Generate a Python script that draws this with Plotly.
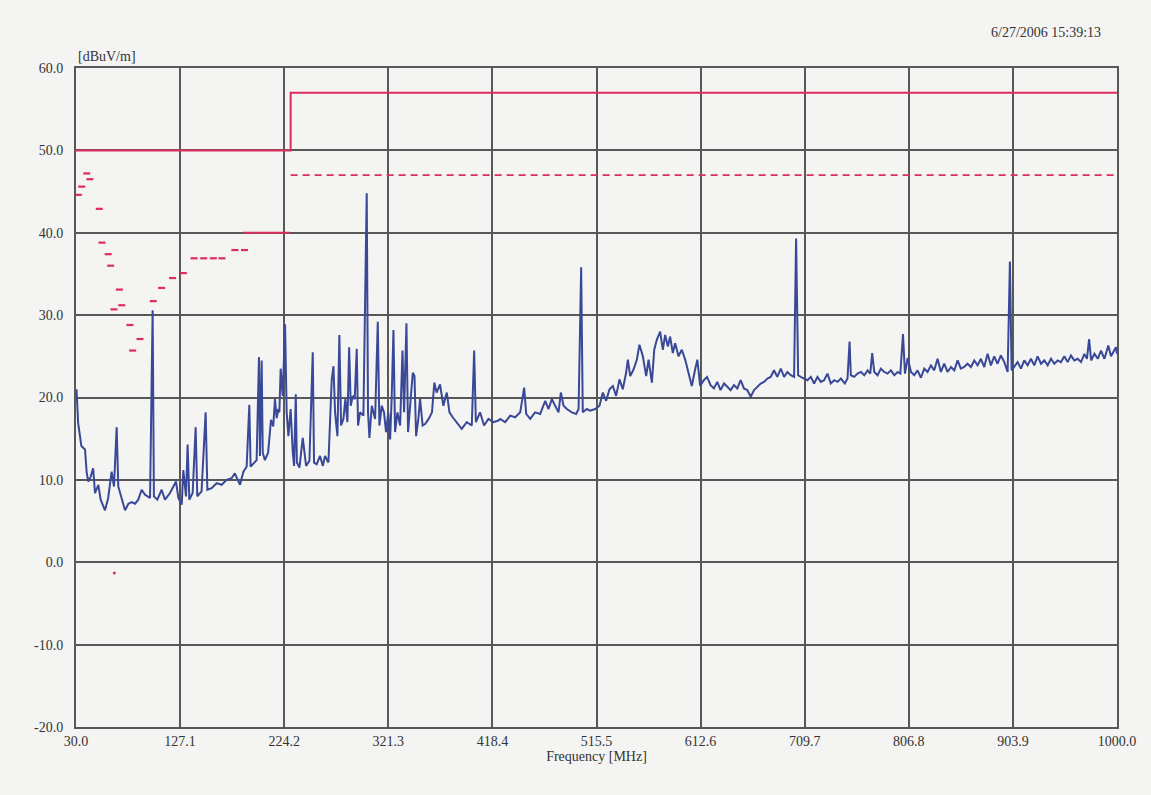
import numpy as np
import plotly.graph_objects as go

# ---------------- data ----------------
x_tick_labels = ["30.0", "127.1", "224.2", "321.3", "418.4", "515.5",
                 "612.6", "709.7", "806.8", "903.9", "1000.0"]
y_tick_values = [-20, -10, 0, 10, 20, 30, 40, 50, 60]
y_tick_labels = ["-20.0", "-10.0", "0.0", "10.0", "20.0", "30.0", "40.0", "50.0", "60.0"]

# measured spectrum (MHz, dBuV/m)
freq = [30.5, 32, 35, 38.4, 40, 41.5, 43.7, 46, 47.7, 50.8, 53, 57, 60, 63.2, 65.4, 67.9, 69.4,
        72.5, 75.7, 78.8, 81.9, 85, 88, 91.2, 94.3, 99, 101.4, 102.6, 105.8, 109.8, 112.9, 117.6,
        120.7, 123.2, 125.4, 128.5, 130, 132.5, 134, 135.6, 138.7, 141.5, 143, 147, 150.8, 152.4,
        156.4, 161, 165.7, 170.4, 175, 178, 182.8, 186, 189, 191.5, 192.7, 195.2, 198.3, 200.5,
        201.4, 203, 204, 206, 209, 211.7, 213.8, 215.4, 217, 218.5, 219.5, 220.7, 222.6, 224.8,
        226.3, 227.9, 230, 232, 233.2, 234.8, 235.8, 238.2, 241.3, 244.4, 247.5, 250.6, 251.8,
        254.3, 257.4, 260, 262, 265.2, 268.3, 269.9, 271.4, 273.6, 275.4, 277, 279.2, 281, 282.9,
        284.5, 286, 287.9, 289.7, 291.6, 292.8, 294.7, 297.8, 300.9, 302.1, 303.4, 305.6, 308.7,
        311.2, 312.7, 314.9, 317, 318.9, 321, 322.7, 324.2, 325.8, 327.3, 329.5, 332, 334.2,
        335.7, 337.9, 339.4, 341.3, 343.8, 345.4, 346.9, 349, 350.6, 353, 355.5, 358.6, 361.7,
        363.9, 366, 369.2, 372.3, 375.5, 378, 381, 384.8, 389.4, 394.1, 398.8, 401, 402.6, 406.5,
        410.2, 414.3, 419, 423.5, 425.2, 429.9, 434.6, 439.2, 443.9, 447.6, 449.5, 453.2, 457.8,
        462.5, 467.2, 470.3, 473.4, 476.5, 479.6, 481.8, 484.3, 487.4, 492, 496, 498.3, 500.7,
        502.2, 506, 509, 513.8, 517.8, 520.9, 524, 527.1, 530.2, 533.3, 536.4, 539.5, 542.6,
        544.2, 546.4, 549.5, 552.6, 555, 558.2, 561.3, 563.5, 566.6, 568.8, 571.2, 574.3, 576.8,
        579, 581.5, 583.6, 586.1, 588.3, 591.4, 594.5, 597.6, 600.7, 603.8, 606.9, 609, 611.6,
        615, 618, 621.3, 624.4, 627.5, 630.6, 633.8, 636.9, 640, 643.1, 646.2, 649.3, 652.4,
        655.5, 658.7, 661.8, 664.9, 668, 671.1, 674.2, 677.3, 680.4, 683.5, 686.7, 689.8, 692.9,
        696, 699.1, 701, 702.9, 705.3, 708.4, 711.6, 714.7, 717.8, 720.9, 724, 727.1, 730.2,
        733.3, 736.5, 739.6, 742.7, 746.4, 748.9, 750.8, 752, 755.1, 758.2, 761.4, 764.5, 767.6,
        770.1, 771.9, 773.8, 776.9, 780, 783.1, 786.2, 789.3, 792.5, 795.6, 798.1, 800.6, 802.4,
        805, 808, 811.1, 814.1, 817.3, 820.4, 823.5, 826.6, 829.7, 832.8, 835.9, 839, 842.1,
        845.3, 848.4, 851.5, 854.5, 857.6, 860.7, 863.9, 867, 870.1, 873.2, 876.3, 879.4, 882.5,
        885.6, 888.7, 891.8, 895, 898.1, 900.2, 901.8, 904.3, 907.4, 910.5, 913.6, 916.7, 919.8,
        922.9, 926, 929.2, 932.3, 935.4, 938.5, 941.6, 944.7, 947.8, 950.9, 954, 957.1, 960.2,
        963.3, 966.5, 969.6, 972, 974, 975.9, 979, 982.1, 985.1, 988.3, 991.9, 994.4, 997.5,
        999, 1000]
level = [21.0, 16.9, 14.1, 13.7, 10.8, 9.8, 10.4, 11.4, 8.4, 9.4, 7.6, 6.3, 7.8, 11.0, 9.2, 16.4, 9.2,
         7.6, 6.3, 7.1, 7.3, 7.1, 7.6, 8.8, 8.2, 7.8, 30.6, 8.0, 7.6, 8.8, 7.6, 8.4,
         9.2, 9.8, 7.8, 7.0, 11.2, 8.0, 14.3, 7.6, 8.4, 16.4, 8.0, 8.6, 18.2, 8.8,
         9.0, 9.6, 9.4, 10.0, 10.2, 10.8, 9.4, 11.0, 11.6, 19.1, 11.6, 12.0, 12.4, 24.9,
         12.9, 24.5, 13.3, 12.4, 13.3, 17.3, 16.5, 19.8, 17.5, 18.6, 18.2, 23.5, 20.2, 28.9,
         18.2, 15.3, 18.6, 13.3, 11.7, 20.4, 12.1, 11.5, 15.1, 11.7, 12.3, 25.5, 12.1,
         11.9, 12.9, 11.7, 12.9, 12.1, 22.2, 23.8, 18.2, 15.3, 27.6, 16.6, 17.4, 19.8, 17.0,
         26.1, 19.0, 20.2, 19.8, 25.9, 16.6, 18.2, 17.8, 44.8, 18.2, 15.1, 19.0, 17.4,
         29.2, 16.6, 19.0, 18.2, 15.8, 18.2, 14.9, 20.2, 28.2, 15.8, 18.2, 16.6, 25.7,
         18.2, 29.0, 15.8, 18.6, 23.0, 22.6, 15.3, 17.4, 19.8, 16.6, 16.8, 17.4, 18.2,
         21.8, 20.6, 21.6, 19.0, 20.6, 18.2, 17.6, 17.0, 16.2, 17.0, 16.6, 25.7, 17.0, 18.2,
         16.6, 17.4, 17.0, 17.2, 17.4, 17.0, 17.8, 17.6, 18.2, 21.2, 18.0, 17.4, 18.2,
         18.0, 19.6, 18.6, 19.8, 19.0, 18.2, 20.6, 19.0, 18.6, 18.2, 18.0, 18.6, 35.8,
         18.2, 18.6, 18.4, 18.6, 19.0, 20.6, 19.6, 21.0, 21.4, 20.2, 22.2, 21.0, 23.0,
         24.6, 22.6, 23.4, 24.6, 26.4, 25.0, 22.6, 24.6, 21.8, 25.8, 27.0, 28.0, 25.8,
         27.6, 26.2, 27.4, 25.4, 26.6, 25.0, 25.8, 24.6, 23.0, 21.4, 23.4, 24.6, 21.4,
         22.1, 22.5, 21.5, 21.1, 21.9, 20.9, 21.7, 21.3, 20.9, 21.5, 21.1, 22.1, 21.1,
         20.9, 20.1, 20.9, 21.3, 21.7, 21.9, 22.3, 22.5, 23.3, 22.5, 23.5, 22.5, 23.1,
         22.7, 22.5, 39.3, 22.7, 22.5, 22.3, 22.1, 22.5, 21.7, 22.5, 21.9, 22.1, 22.9,
         21.7, 22.1, 21.9, 22.3, 21.7, 22.3, 26.8, 22.7, 22.5, 22.9, 23.1, 22.7, 23.3,
         22.9, 25.4, 23.1, 22.7, 23.5, 23.1, 22.9, 23.3, 22.7, 23.1, 22.9, 27.7, 22.9,
         24.8, 23.1, 22.7, 23.3, 22.4, 23.5, 23.1, 23.9, 23.3, 24.7, 23.1, 24.1, 23.1,
         23.7, 23.3, 24.5, 23.5, 23.7, 24.1, 23.7, 24.5, 23.9, 24.7, 23.7, 25.3, 23.9,
         25.0, 24.1, 25.1, 24.3, 23.1, 36.5, 23.3, 23.7, 24.3, 23.5, 24.5, 23.9, 24.7,
         23.9, 25.0, 24.1, 24.5, 23.9, 24.7, 24.1, 24.5, 24.3, 25.0, 24.3, 25.1, 24.5,
         24.7, 24.3, 25.3, 24.7, 27.1, 24.5, 25.3, 24.7, 25.7, 24.7, 26.3, 25.0, 25.7,
         26.1, 25.3]

# limit lines
limit_freq = [30, 230, 230, 1000]
limit_level = [50, 50, 57, 57]
margin_freq = [230, 1000]
margin_level = [47, 47]

# red quasi-peak marks
qp_freq = [32.2, 35.3, 40.0, 43.0, 51.7, 54.2, 60.0, 62.3, 65.4, 70.4, 72.6, 80.3, 82.8, 89.6,
           102.0, 109.8, 120.0, 130.0, 140.0, 149.0, 158.0, 166.0, 178.0, 187.0]
qp_level = [44.6, 45.6, 47.2, 46.5, 42.9, 38.8, 37.4, 36.0, 30.7, 33.1, 31.2, 28.8, 25.7, 27.1,
            31.7, 33.3, 34.5, 35.1, 36.9, 36.9, 36.9, 36.9, 37.9, 37.9]
qp_line_freq = [185.6, 229.5]
qp_line_level = [40.0, 40.0]
dot_freq = [65.7]
dot_level = [-1.3]

# ---------------- figure ----------------
RED = "#dc2d5e"
BLUE = "#3a4898"
GRID = "#585858"
TXT = "#333333"
BG = "#f4f4f2"
FONT = "Liberation Serif, Times New Roman, serif"

fig = go.Figure()
fig.add_trace(go.Scatter(x=limit_freq, y=limit_level, mode="lines",
                         line=dict(color=RED, width=2), hoverinfo="skip"))
fig.add_trace(go.Scatter(x=margin_freq, y=margin_level, mode="lines",
                         line=dict(color=RED, width=1.8, dash="7px,5px"), hoverinfo="skip"))
fig.add_trace(go.Scatter(x=qp_line_freq, y=qp_line_level, mode="lines",
                         line=dict(color=RED, width=1.8), hoverinfo="skip"))
fig.add_trace(go.Scatter(x=qp_freq, y=qp_level, mode="markers",
                         marker=dict(symbol="line-ew", size=5,
                                     line=dict(color=RED, width=2.2))))
fig.add_trace(go.Scatter(x=dot_freq, y=dot_level, mode="markers",
                         marker=dict(symbol="circle", size=3, color=RED)))
fig.add_trace(go.Scatter(x=freq, y=level, mode="lines",
                         line=dict(color=BLUE, width=2)))

fig.update_layout(
    width=1151, height=795,
    margin=dict(l=76, r=34, t=68, b=68),
    paper_bgcolor=BG, plot_bgcolor=BG,
    showlegend=False,
    font=dict(family=FONT, size=14, color=TXT),
    xaxis=dict(range=[30, 1000], tickmode="array",
               tickvals=list(np.linspace(30, 1000, 11)), ticktext=x_tick_labels,
               showgrid=True, gridcolor=GRID, gridwidth=2,
               showline=True, linecolor=GRID, linewidth=2, mirror=True,
               zeroline=False, ticks="",
               title=dict(text="Frequency [MHz]", standoff=2,
                          font=dict(family=FONT, size=14, color=TXT))),
    yaxis=dict(range=[-20, 60], tickmode="array",
               tickvals=y_tick_values, ticktext=y_tick_labels,
               showgrid=True, gridcolor=GRID, gridwidth=2,
               showline=True, linecolor=GRID, linewidth=2, mirror=True,
               zeroline=False, ticks="", ticklabelstandoff=8),
    annotations=[
        dict(text="[dBuV/m]", xref="paper", yref="paper", x=0.0, y=1.0,
             xanchor="left", yanchor="bottom", yshift=2, showarrow=False,
             font=dict(family=FONT, size=14, color=TXT)),
        dict(text="6/27/2006 15:39:13", xref="paper", yref="paper", x=0.987, y=1.0,
             xanchor="right", yanchor="bottom", yshift=26, showarrow=False,
             font=dict(family=FONT, size=14, color=TXT)),
    ],
)

fig.write_html("out.html",
               config={"displayModeBar": False},
               post_script="document.body.style.margin='0';"
                           "document.body.style.background='#f4f4f2';")
